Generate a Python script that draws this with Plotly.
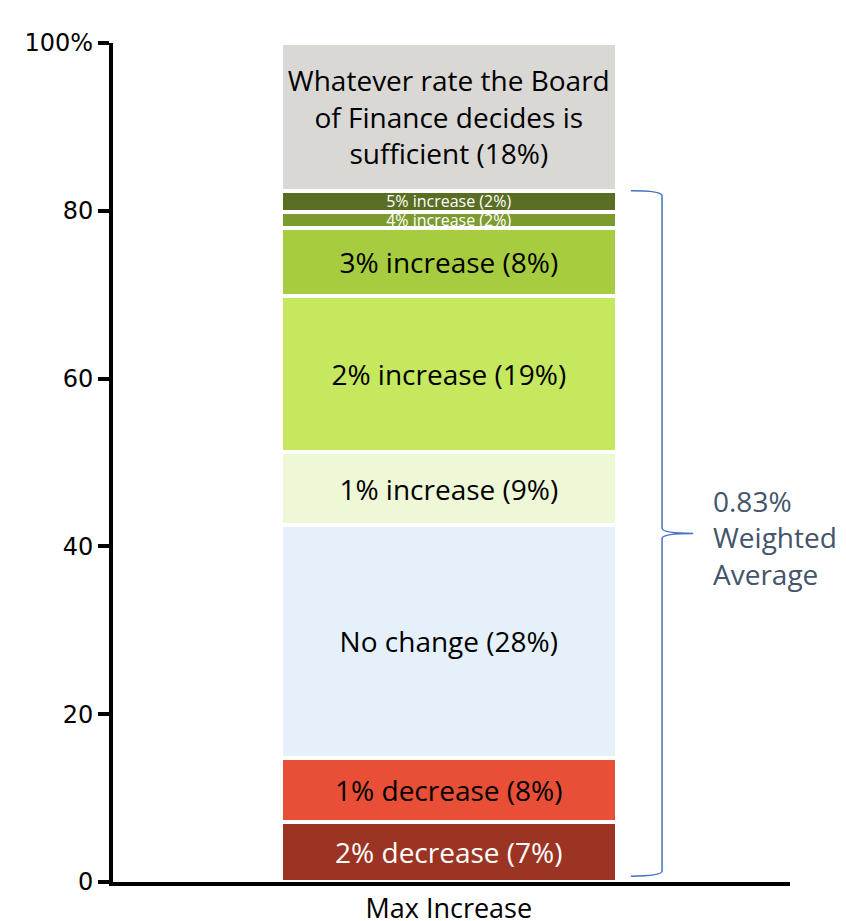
import plotly.graph_objects as go

# Datos (porcentaje de respuestas, de abajo hacia arriba)
categorias = ['2% decrease', '1% decrease', 'No change', '1% increase', '2% increase',
              '3% increase', '4% increase', '5% increase', 'Whatever rate']
valores = [7.2, 7.6, 27.8, 8.6, 18.7, 8.0, 2.0, 2.5, 17.6]
etiquetas = ['2% decrease (7%)', '1% decrease (8%)', 'No change (28%)', '1% increase (9%)',
             '2% increase (19%)', '3% increase (8%)', '4% increase (2%)', '5% increase (2%)',
             'Whatever rate the Board<br>of Finance decides is<br>sufficient (18%)']
colores = ['#9c3424', '#e84f36', '#e6f0fb', '#eef7d6', '#c6e85f',
           '#a8cc40', '#7b9b2f', '#5a6e23', '#d9d8d5']
color_texto = ['white', 'black', 'black', 'black', 'black', 'black', 'white', 'white', 'black']
tam_texto = [28, 28, 28, 28, 28, 28, 16, 16, 28]

eje_x = ['Max Increase']
tick_vals = [0, 20, 40, 60, 80, 100]
tick_text = ['0', '20', '40', '60', '80', '100%']

fig = go.Figure()
for cat, val, txt, col, tcol, tsz in zip(categorias, valores, etiquetas, colores, color_texto, tam_texto):
    fig.add_trace(go.Bar(
        x=eje_x, y=[val], name=cat,
        text=[txt], textposition='inside', insidetextanchor='middle',
        textangle=0, constraintext='none',
        textfont=dict(color=tcol, size=tsz, family='Open Sans'),
        marker=dict(color=col, line=dict(color='white', width=4)),
        width=0.497,
    ))

# Llave a la derecha (de la base hasta el tope del 5%)
top = sum(valores[:8])
bot = 0.7
mid = (top + bot) / 2
x0, x1, xt = 0.765, 0.811, 0.857
d = 0.6
path = (f'M {x0},{top} Q {x1},{top} {x1},{top - d} '
        f'L {x1},{mid + d} Q {x1},{mid} {xt},{mid} '
        f'Q {x1},{mid} {x1},{mid - d} '
        f'L {x1},{bot + d} Q {x1},{bot} {x0},{bot}')
fig.add_shape(type='path', path=path, xref='paper', yref='y',
              line=dict(color='#4472c4', width=1.5))

fig.add_annotation(
    x=0.884, y=mid - 0.5, xref='paper', yref='y', xanchor='left', yanchor='middle',
    text='0.83%<br>Weighted<br>Average', showarrow=False, align='left',
    font=dict(color='#44546a', size=28, family='Open Sans'),
)

# margenes compensan el margen de 8px del body de la pagina
fig.update_layout(
    width=846, height=921,
    barmode='stack',
    showlegend=False,
    plot_bgcolor='white',
    paper_bgcolor='white',
    margin=dict(l=105, r=64, t=35, b=47),
    xaxis=dict(
        showline=True, linecolor='black', linewidth=4, automargin=False,
        ticks='', tickfont=dict(size=27, family='Open Sans', color='black'),
        range=[-0.496, 0.504],
    ),
    yaxis=dict(
        range=[0, 100], tickvals=tick_vals, ticktext=tick_text, automargin=False,
        showline=True, linecolor='black', linewidth=4,
        ticks='outside', ticklen=11, tickwidth=4, tickcolor='black',
        tickfont=dict(size=24, family='DejaVu Sans', color='black'),
        showgrid=False, zeroline=False,
    ),
)

fig.write_html("out.html")
